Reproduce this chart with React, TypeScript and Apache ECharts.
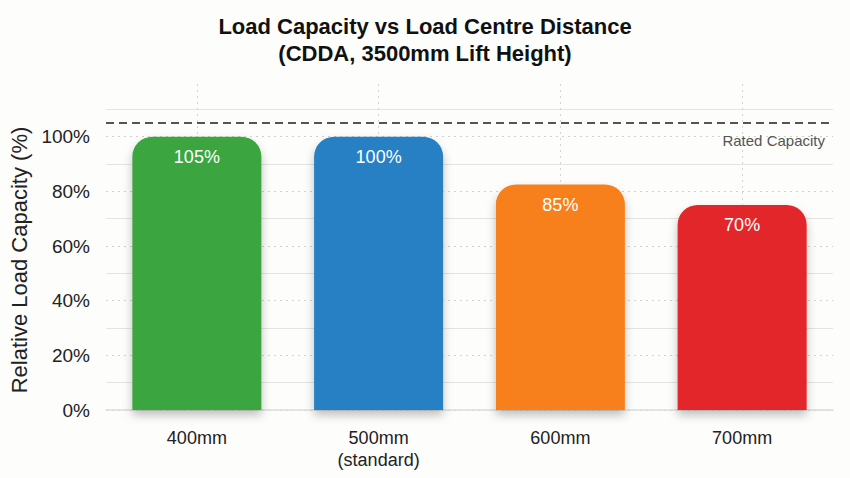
import { useEffect, useRef } from "react";
import * as echarts from "echarts";

const CATEGORIES = ["400mm", "500mm\n(standard)", "600mm", "700mm"];
const BAR_HEIGHTS = [100, 100, 82.5, 75];
const BAR_LABELS = ["105%", "100%", "85%", "70%"];
const BAR_COLORS = ["#3aa640", "#2680c3", "#f7801e", "#e2262a"];
const RATED_CAPACITY = 105;
const Y_TICKS_MAX = 120;

const FONT = "'Liberation Sans', Arial, sans-serif";

export default function App() {
  const ref = useRef<HTMLDivElement>(null);
  useEffect(() => {
    document.body.style.margin = "0";
    if (!ref.current) return;
    const chart = echarts.init(ref.current, null, { renderer: "svg" });
    const option: echarts.EChartsOption = {
      animation: false,
      backgroundColor: "#fdfdfb",
      textStyle: { fontFamily: FONT },
      title: {
        text: "Load Capacity vs Load Centre Distance\n(CDDA, 3500mm Lift Height)",
        left: "center",
        top: 8,
        textStyle: { fontSize: 22, fontWeight: "bold", color: "#111", lineHeight: 27, fontFamily: FONT },
      },
      grid: { left: 104, right: 17, top: 82, bottom: 68 },
      xAxis: {
        type: "category",
        data: CATEGORIES,
        axisLine: { lineStyle: { color: "#dcdcdc", width: 1.5 } },
        axisTick: { alignWithLabel: true, length: 6, lineStyle: { color: "#d0d0d0" } },
        axisLabel: { fontSize: 18, color: "#222", margin: 17, lineHeight: 22 },
        splitLine: { show: false },
      },
      yAxis: {
        type: "value",
        min: 0,
        max: Y_TICKS_MAX,
        interval: 20,
        name: "Relative Load Capacity (%)",
        nameLocation: "middle",
        nameGap: 76,
        nameTextStyle: { fontSize: 22, color: "#222", padding: [0, 28, 0, 0] },
        axisLine: { show: false },
        axisTick: { show: false },
        axisLabel: {
          fontSize: 19,
          color: "#222",
          margin: 16,
          formatter: (v: number) => (v > 100 ? "" : v + "%"),
        },
        splitLine: { show: true, showMaxLine: false, lineStyle: { color: "#cfcfcf", type: [2, 4] } },
        minorTick: { show: false, splitNumber: 2 },
        minorSplitLine: { show: true, lineStyle: { color: "#e4e4e4" } },
      },
      series: [
        {
          type: "line",
          data: [],
          z: 1,
          markLine: {
            silent: true,
            z: 1,
            symbol: "none",
            label: { show: false },
            lineStyle: { color: "#d4d4d4", type: [2, 4], width: 1 },
            data: CATEGORIES.map((c) => ({ xAxis: c })),
          },
        },
        {
          type: "bar",
          z: 3,
          barWidth: "71%",
          data: BAR_HEIGHTS.map((v, i) => ({
            value: v,
            itemStyle: { color: BAR_COLORS[i] },
            label: { formatter: BAR_LABELS[i] },
          })),
          itemStyle: {
            borderRadius: [20, 20, 0, 0],
            shadowColor: "rgba(0,0,0,0.25)",
            shadowBlur: 10,
            shadowOffsetY: 5,
          },
          label: {
            show: true,
            position: "insideTop",
            distance: 11,
            color: "#fff",
            fontSize: 18,
          },
          markLine: {
            silent: true,
            z: 4,
            symbol: "none",
            lineStyle: { color: "#555", type: [8, 5], width: 2 },
            label: {
              show: true,
              position: "insideEndBottom",
              formatter: "Rated Capacity",
              color: "#555",
              fontSize: 15,
              distance: [8, 10],
            },
            data: [{ yAxis: RATED_CAPACITY }],
          },
        },
      ],
    };
    chart.setOption(option);
    return () => chart.dispose();
  }, []);
  return <div ref={ref} style={{ width: 850, height: 478 }} />;
}
